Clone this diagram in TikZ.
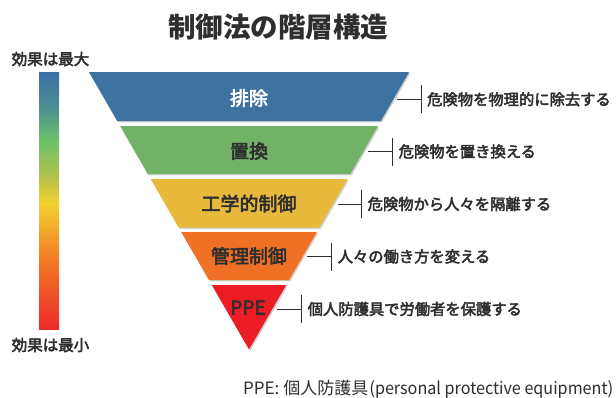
\documentclass[tikz,border=0pt]{standalone}
\usepackage{fontspec}
\setmainfont{Noto Sans CJK JP}
\newfontfamily\jpmed{Noto Sans CJK JP}[FakeBold=3]
\usetikzlibrary{shadows}
\definecolor{blueband}{HTML}{3E72A0}
\definecolor{greenband}{HTML}{71B267}
\definecolor{yellowband}{HTML}{E8B93B}
\definecolor{orangeband}{HTML}{F07125}
\definecolor{redband}{HTML}{EC1C24}
\definecolor{textdark}{HTML}{2E2E2E}
\definecolor{barblue}{HTML}{3A6EA5}
\definecolor{barteal}{HTML}{4C9190}
\definecolor{bargreen}{HTML}{6CC06A}
\definecolor{baryg}{HTML}{B0C24C}
\definecolor{baryellow}{HTML}{F3D12F}
\definecolor{barorange}{HTML}{F27A25}
\definecolor{barred}{HTML}{EC2A2A}
\pgfdeclareverticalshading{effbar}{100bp}{color(0bp)=(barred); color(25bp)=(barred); color(38.5bp)=(barorange); color(49.5bp)=(baryellow); color(55bp)=(baryg); color(61.75bp)=(bargreen); color(68bp)=(barteal); color(75bp)=(barblue); color(100bp)=(barblue)}
\newcommand\drawband[3]{\fill[#3,bandshadow] ({249-0.577*(349.5-#1)},#1) -- ({249+0.577*(349.5-#1)},#1) -- ({249+0.577*(349.5-#2)},#2) -- ({249-0.577*(349.5-#2)},#2) -- cycle;}
\begin{document}
\begin{tikzpicture}[x=1pt,y=-1pt,
  bandshadow/.style={drop shadow={shadow xshift=1.3pt,shadow yshift=-1.3pt,opacity=0.3,fill=black!60}},
  lab/.style={font=\jpmed\fontsize{19}{19}\selectfont, text=textdark, inner sep=0},
  side/.style={font=\jpmed\fontsize{15.3}{15.3}\selectfont, text=textdark, anchor=west, inner sep=0},
  small/.style={font=\jpmed\fontsize{15.5}{15.5}\selectfont, text=textdark, inner sep=0},
  conn/.style={draw=textdark, line width=0.9pt}]
\useasboundingbox (0,0) rectangle (616,397);
\fill[white] (0,0) rectangle (616,397);
% title
\node[font=\fontsize{27.5}{27.5}\selectfont\bfseries, text=textdark, inner sep=0] (title) at (278,27) {制御法の階層構造};
% effect bar
\node[small] (top) at (50.5,59) {効果は最大};
\node[small] (bot) at (50.5,345) {効果は最小};
\shade[shading=effbar] (39,72) rectangle (59,329.5);
% bands
\drawband{72}{121}{blueband}
\drawband{126}{174}{greenband}
\drawband{179}{227.5}{yellowband}
\drawband{232}{280}{orangeband}
\fill[redband,bandshadow] ({249-0.577*64.5},285) -- ({249+0.577*64.5},285) -- (249,349.5) -- cycle;
% labels
\node[lab, text=white] (l1) at (249,98) {排除};
\node[lab] (l2) at (249,151) {置換};
\node[lab] (l3) at (249,203.5) {工学的制御};
\node[lab] (l4) at (249,256) {管理制御};
\node[lab] (l5) at (248,307.5) {PPE};
% connectors
\coordinate (s1) at (397,99.3);   \coordinate (b1) at (421,99.3);
\coordinate (s2) at (368,151.5);  \coordinate (b2) at (392.5,151.5);
\coordinate (s3) at (338,204);    \coordinate (b3) at (361.5,204);
\coordinate (s4) at (307,256.5);  \coordinate (b4) at (331.5,256.5);
\coordinate (s5) at (277,309);    \coordinate (b5) at (301.5,309);
\foreach \i in {1,...,5}{
  \draw[conn] (s\i) -- (b\i);
  \draw[conn] ([yshift=14pt]b\i) -- ([yshift=-14pt]b\i);
}
\node[side] (t1) at ([xshift=6pt]b1) {危険物を物理的に除去する};
\node[side] (t2) at ([xshift=6pt]b2) {危険物を置き換える};
\node[side] (t3) at ([xshift=6pt]b3) {危険物から人々を隔離する};
\node[side] (t4) at ([xshift=6pt]b4) {人々の働き方を変える};
\node[side] (t5) at ([xshift=6pt]b5) {個人防護具で労働者を保護する};
% caption
\node[font=\fontsize{17}{17}\selectfont, text=textdark, anchor=west, inner sep=0] (cap) at (243,389.5) {PPE: 個人防護具\kern1pt(\scalebox{0.95}[1]{personal protective equipment})};
\end{tikzpicture}
\end{document}
